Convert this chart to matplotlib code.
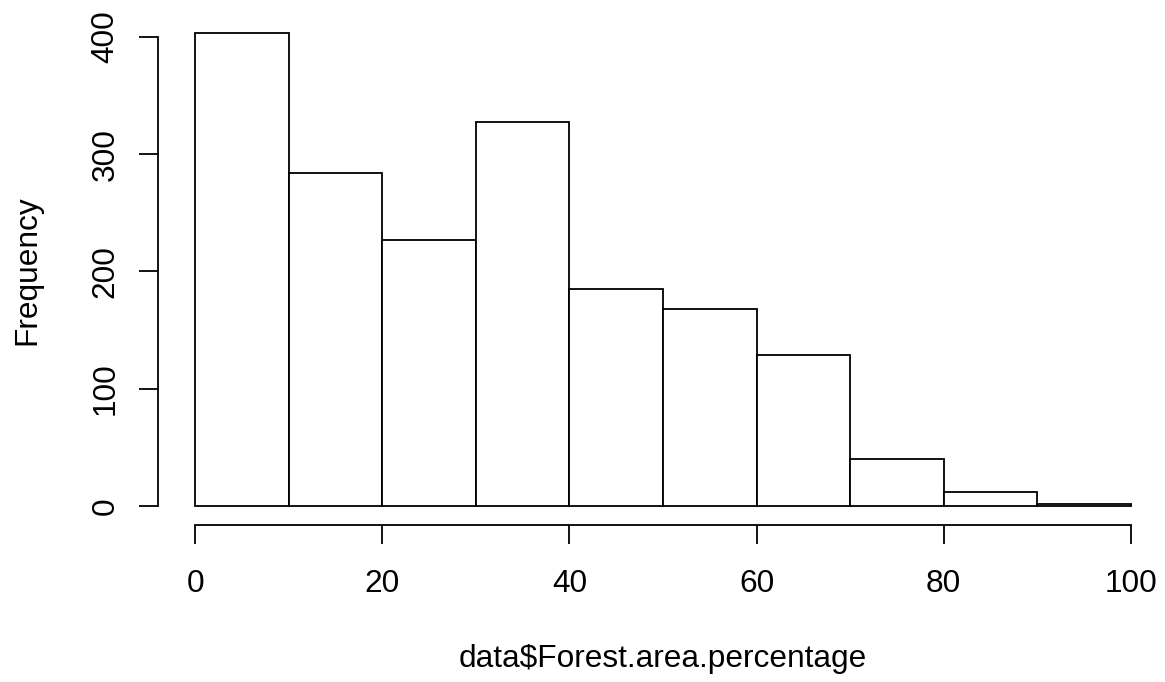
import numpy as np
import matplotlib
matplotlib.use("Agg")
import matplotlib.pyplot as plt

# histogram of forest area percentage, 10-wide bins
breaks = [0, 10, 20, 30, 40, 50, 60, 70, 80, 90, 100]
counts = [403, 284, 227, 327, 185, 168, 129, 40, 12, 2]
xticks = [0, 20, 40, 60, 80, 100]
yticks = [0, 100, 200, 300, 400]

plt.rcParams['font.family'] = ['Liberation Sans', 'DejaVu Sans']
fs = 22.8
lw = 1.3

W, H = 1165, 682
fig = plt.figure(figsize=(W / 100, H / 100), dpi=100)

# plot region like R: 4% padding around the data range
x0, x1 = breaks[0], breaks[-1]
ymax = max(counts)
xpad = 0.04 * (x1 - x0)
ypad = 0.04 * ymax
left, right, bottom, top = 158, 1168, 525, 14.3
ax = fig.add_axes([left / W, 1 - bottom / H, (right - left) / W, (bottom - top) / H])
ax.set_xlim(x0 - xpad, x1 + xpad)
ax.set_ylim(-ypad, ymax + ypad)

widths = np.diff(breaks)
ax.bar(breaks[:-1], counts, width=widths, align='edge',
       facecolor='white', edgecolor='black', linewidth=lw)

for s in ['top', 'right']:
    ax.spines[s].set_visible(False)
ax.spines['bottom'].set_bounds(xticks[0], xticks[-1])
ax.spines['left'].set_bounds(yticks[0], yticks[-1])
ax.spines['bottom'].set_linewidth(lw)
ax.spines['left'].set_linewidth(lw)

ax.set_xticks(xticks)
ax.set_xticklabels([str(v) for v in xticks], fontsize=fs)
ax.set_yticks(yticks)
ax.set_yticklabels([str(v) for v in yticks], fontsize=fs, rotation=90, va='center')
ax.tick_params(axis='both', length=14, width=lw, color='black')
ax.tick_params(axis='x', pad=18)
ax.tick_params(axis='y', pad=13)

fig.text((left + right) / 2 / W, 1 - 659 / H, 'data$Forest.area.percentage',
         fontsize=fs, ha='center', va='center')
fig.text(27.5 / W, 1 - (top + bottom) / 2 / H, 'Frequency',
         fontsize=fs, ha='center', va='center', rotation=90)

fig.savefig('out.png', dpi=100)
